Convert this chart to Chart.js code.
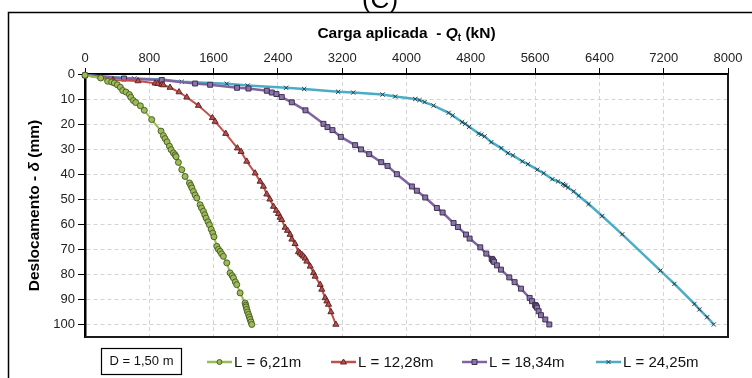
<!DOCTYPE html>
<html>
<head>
<meta charset="utf-8">
<script src="https://cdn.jsdelivr.net/npm/chart.js@4.4.1/dist/chart.umd.min.js"></script>
<style>
  html, body { margin: 0; padding: 0; background: #fff; }
  canvas { display: block; }
</style>
</head>
<body>
<canvas id="c" width="752" height="378"></canvas>
<script>
// ---- Data (Q in kN, delta in mm) ----
const seriesLabels = ["L = 6,21m", "L = 12,28m", "L = 18,34m", "L = 24,25m"];
const xTickStep = 800;
const yTickStep = 10;

const q621 = [0,195,282,332,365,402,440,469,510,552,569,602,631,689,738,830,946,975,996,1021,1050,1071,1100,1121,1133,1162,1204,1245,1300,1316,1330,1349,1370,1391,1432,1450,1473,1490,1507,1530,1548,1570,1590,1605,1640,1660,1681,1700,1722,1764,1805,1830,1847,1870,1888,1930,1992,2000,2005,2013,2022,2034,2045,2054,2065,2075];
const d621 = [0.5,1.6,2.9,3.2,3.6,4.3,5.3,6.6,7.2,8.2,9.3,10.6,11.4,12.7,14.5,18.2,22.8,24.6,25.8,27.1,28.8,30.2,31.5,32.3,33,35.3,38.2,40.9,43.5,44.5,45.5,46.9,48.3,49.5,52.2,53.5,54.8,56.2,57.5,59,60.2,62,63.5,65,68.8,70,70.8,71.8,72.8,75.4,79.4,80.5,81.4,83,84.1,87.4,91.4,92.3,93,94,95,96,97,98,99,100];

const q1228 = [0,349,660,872,905,955,975,1058,1170,1266,1411,1585,1619,1751,1896,1942,2013,2117,2179,2220,2262,2300,2345,2380,2407,2428,2448,2490,2520,2552,2574,2614,2656,2677,2700,2718,2740,2760,2802,2843,2863,2926,2946,2988,3009,3030,3060,3121];
const d1228 = [0.5,2.4,2.8,3.7,3.9,4.2,4.4,5.4,7.2,9.3,12.6,17.5,19,23.8,29.6,31,34.9,39.6,42.9,44.9,48,50,52.9,54.5,55.8,57.3,58.2,61.3,62.5,64.1,66,67.8,71,71.6,72.2,72.8,73.6,74.8,76.8,79.4,80.8,84.1,86,89.4,90.7,92,95,100];

const q1834 = [0,485,955,1370,1557,1892,2034,2262,2324,2382,2448,2573,2743,2967,3017,3079,3183,3361,3434,3536,3685,3764,3880,4067,4129,4233,4378,4449,4586,4640,4740,4785,4918,4993,5060,5070,5076,5090,5125,5175,5279,5345,5424,5532,5561,5600,5610,5615,5625,5644,5673,5727,5777];
const d1834 = [0.5,1.8,2.4,3.8,4.3,5.5,5.8,6.7,7.4,8,9.2,11.3,14.5,19.9,21.2,22.4,25.1,28.4,30.1,32,35.2,36.7,40,44.9,46.6,49.3,53.5,55.3,59.5,61.1,64.1,65.7,69.2,71.7,73.8,74.1,74.5,75,76.4,78.1,81.2,83.1,85.7,89.4,90.7,92.2,92.5,92.8,93.3,94.7,96.3,98,100];

const q2425 = [0,614,955,1204,1764,2024,2502,2727,3150,3337,3702,3859,4108,4162,4225,4337,4524,4574,4692,4731,4779,4899,4930,4971,5055,5179,5262,5324,5441,5511,5627,5706,5814,5885,5947,5965,5980,6009,6080,6142,6266,6435,6684,7159,7333,7582,7644,7740,7823];
const d2425 = [0.5,1.8,2.2,3.1,3.9,4.6,5.5,6,7.1,7.4,8.2,9,10,10.4,11.2,12.6,15.5,16.6,19.2,19.9,21.1,23.8,24.2,24.9,27.2,29.6,31.6,32.5,34.9,36,38.2,39.6,42,42.9,43.9,44.3,44.6,45.3,46.9,48.6,51.9,56.7,64,78.5,83.8,91.8,94,97.1,100];

const pts = (qs, ds) => qs.map((q, i) => ({ x: q, y: ds[i] }));

// ---- styles ----
const styles = [
  { line: '#9bbb59', fill: '#9bbb59', edge: '#4f6228', shape: 'circle', r: 3, lw: 2 },
  { line: '#c0504d', fill: '#b5514e', edge: '#632523', shape: 'triangle', r: 3.5, lw: 2 },
  { line: '#8064a2', fill: '#8a74aa', edge: '#3f3151', shape: 'rect', r: 3.5, lw: 2.5 },
  { line: '#4bacc6', fill: '#4bacc6', edge: '#1f3f4a', shape: 'crossRot', r: 3, lw: 2.5 }
];
const dataSets = [pts(q621, d621), pts(q1228, d1228), pts(q1834, d1834), pts(q2425, d2425)];

const datasets = dataSets.map((d, i) => ({
  label: seriesLabels[i],
  data: d,
  showLine: true,
  borderColor: styles[i].line,
  borderWidth: styles[i].lw,
  backgroundColor: styles[i].fill,
  pointStyle: styles[i].shape,
  pointRadius: styles[i].r,
  pointBorderColor: styles[i].edge,
  pointBackgroundColor: styles[i].fill,
  pointBorderWidth: 1,
  tension: 0,
  clip: false
}));

const FONT = '"Liberation Sans", Arial, sans-serif';

const decor = {
  id: 'decor',
  beforeDraw(chart) {
    const ctx = chart.ctx;
    ctx.save();
    ctx.fillStyle = '#fff';
    ctx.fillRect(0, 0, chart.width, chart.height);
    ctx.strokeStyle = '#000';
    ctx.lineWidth = 1.5;
    ctx.strokeRect(8.5, 12.5, 800, 400);
    ctx.fillStyle = '#000';
    ctx.font = '26px ' + FONT;
    ctx.textAlign = 'center';
    ctx.textBaseline = 'alphabetic';
    ctx.fillText('(C)', 380, 8);
    ctx.restore();
  },
  beforeDatasetsDraw(chart) {
    const ctx = chart.ctx, a = chart.chartArea;
    ctx.save();
    ctx.strokeStyle = '#1a1a1a';
    ctx.lineWidth = 2;
    ctx.beginPath();
    ctx.moveTo(a.right, a.top);
    ctx.lineTo(a.right, a.bottom);
    ctx.lineTo(a.left, a.bottom);
    ctx.stroke();
    ctx.restore();
  },
  afterDraw(chart) {
    const ctx = chart.ctx, a = chart.chartArea;
    ctx.save();
    ctx.fillStyle = '#000';
    const tf = '15.5px ' + FONT;
    const p1 = 'Carga aplicada  - ', p2 = 'Q', p3 = 't', p4 = ' (kN)';
    ctx.font = 'bold ' + tf; const w1 = ctx.measureText(p1).width;
    ctx.font = 'italic bold ' + tf; const w2 = ctx.measureText(p2).width;
    ctx.font = 'bold 10px ' + FONT; const w3 = ctx.measureText(p3).width;
    ctx.font = 'bold ' + tf; const w4 = ctx.measureText(p4).width;
    let x = (a.left + a.right) / 2 - (w1 + w2 + w3 + w4) / 2;
    const yb = 38;
    ctx.textAlign = 'left'; ctx.textBaseline = 'alphabetic';
    ctx.font = 'bold ' + tf; ctx.fillText(p1, x, yb); x += w1;
    ctx.font = 'italic bold ' + tf; ctx.fillText(p2, x, yb); x += w2;
    ctx.font = 'bold 10px ' + FONT; ctx.fillText(p3, x, yb + 3); x += w3;
    ctx.font = 'bold ' + tf; ctx.fillText(p4, x, yb);

    ctx.save();
    ctx.translate(39, (a.top + a.bottom) / 2);
    ctx.rotate(-Math.PI / 2);
    const s1 = 'Deslocamento - ', s2 = 'δ', s3 = ' (mm)';
    ctx.font = 'bold ' + tf; const v1 = ctx.measureText(s1).width;
    ctx.font = 'italic bold ' + tf; const v2 = ctx.measureText(s2).width;
    ctx.font = 'bold ' + tf; const v3 = ctx.measureText(s3).width;
    let xx = -(v1 + v2 + v3) / 2;
    ctx.font = 'bold ' + tf; ctx.fillText(s1, xx, 0); xx += v1;
    ctx.font = 'italic bold ' + tf; ctx.fillText(s2, xx, 0); xx += v2;
    ctx.font = 'bold ' + tf; ctx.fillText(s3, xx, 0);
    ctx.restore();

    ctx.strokeStyle = '#000';
    ctx.lineWidth = 1.2;
    ctx.strokeRect(101.5, 348.5, 80, 26);
    ctx.font = '13px ' + FONT;
    ctx.textAlign = 'center'; ctx.textBaseline = 'middle';
    ctx.fillStyle = '#111';
    ctx.fillText('D = 1,50 m', 141.5, 361.5);

    const lx = [207, 331, 462, 596];
    const ly = 362;
    ctx.textAlign = 'left';
    ctx.font = '15px ' + FONT;
    styles.forEach((s, i) => {
      ctx.strokeStyle = s.line;
      ctx.lineWidth = 2.5;
      ctx.beginPath();
      ctx.moveTo(lx[i], ly); ctx.lineTo(lx[i] + 25, ly); ctx.stroke();
      ctx.fillStyle = s.fill; ctx.strokeStyle = s.edge; ctx.lineWidth = 1;
      ctx.beginPath();
      const cx = lx[i] + 12.5;
      if (s.shape === 'circle') { ctx.arc(cx, ly, 2.5, 0, Math.PI * 2); ctx.fill(); ctx.stroke(); }
      else if (s.shape === 'rect') { ctx.rect(cx - 2.5, ly - 2.5, 5, 5); ctx.fill(); ctx.stroke(); }
      else if (s.shape === 'triangle') { ctx.moveTo(cx, ly - 3); ctx.lineTo(cx + 3, ly + 2); ctx.lineTo(cx - 3, ly + 2); ctx.closePath(); ctx.fill(); ctx.stroke(); }
      else { ctx.moveTo(cx - 2, ly - 2); ctx.lineTo(cx + 2, ly + 2); ctx.moveTo(cx + 2, ly - 2); ctx.lineTo(cx - 2, ly + 2); ctx.stroke(); }
      ctx.fillStyle = '#111';
      ctx.fillText(seriesLabels[i], lx[i] + 27, ly + 1);
    });
    ctx.restore();
  }
};

new Chart(document.getElementById('c'), {
  type: 'line',
  data: { datasets },
  options: {
    responsive: false,
    animation: false,
    devicePixelRatio: 1,
    layout: { padding: { left: 0, top: 0, right: 24, bottom: 41 } },
    plugins: { legend: { display: false }, tooltip: { enabled: false }, title: { display: false } },
    scales: {
      x: {
        type: 'linear',
        position: 'top',
        min: 0, max: 8000,
        ticks: { stepSize: xTickStep, color: '#222', font: { family: FONT, size: 13 }, padding: 2, maxRotation: 0,
                 callback: v => String(v) },
        grid: { color: '#d4d4d4', lineWidth: 1, tickLength: 6, tickColor: '#000', tickBorderDash: [], tickWidth: 1 },
        border: { display: true, color: '#000', width: 2, dash: [4, 3] },
        afterFit(scale) { scale.height = 74; }
      },
      y: {
        type: 'linear',
        reverse: true,
        min: 0, max: 105,
        ticks: { stepSize: yTickStep, includeBounds: false, color: '#222', font: { family: FONT, size: 13 }, padding: 3,
                 callback: v => String(v) },
        grid: { color: '#d4d4d4', lineWidth: 1, tickLength: 7, tickColor: '#000', tickBorderDash: [], tickWidth: 1 },
        border: { display: true, color: '#000', width: 2.5, dash: [4, 3] },
        afterFit(scale) { scale.width = 85; }
      }
    }
  },
  plugins: [decor]
});
</script>
</body>
</html>
